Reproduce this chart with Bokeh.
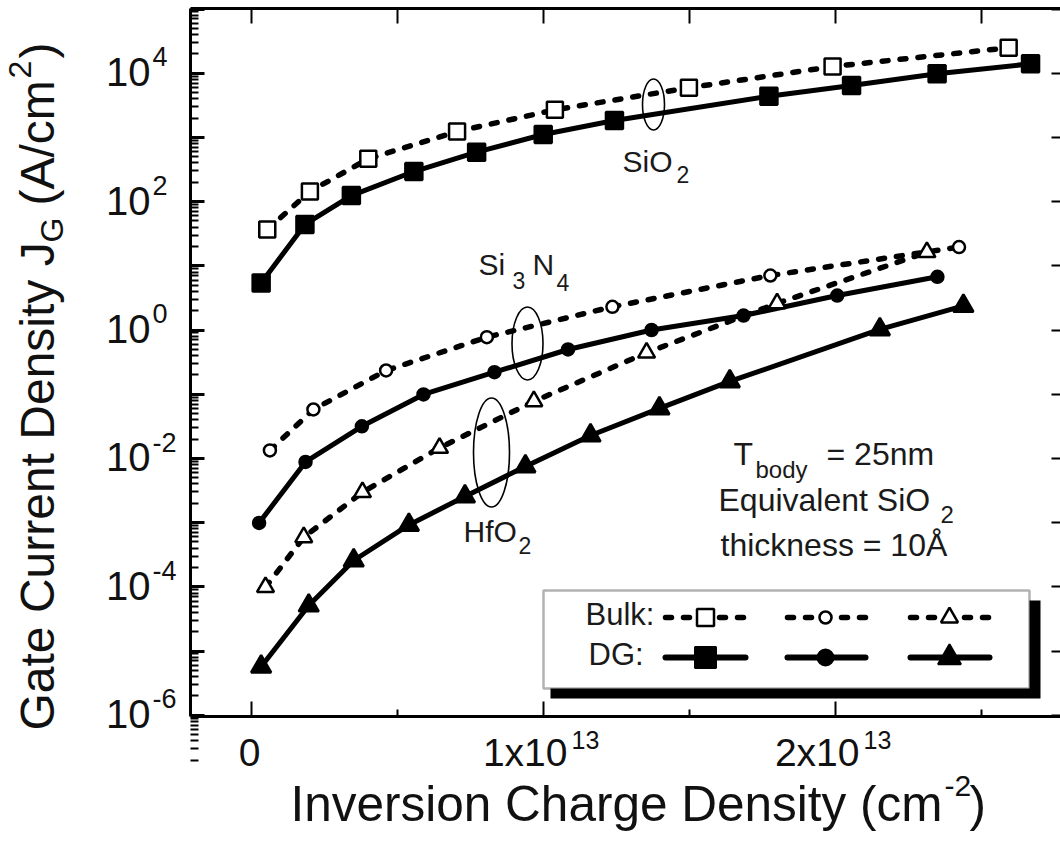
import math
from bokeh.plotting import figure
from bokeh.models import (Range1d, LinearAxis, LogAxis, FixedTicker, CustomJSTickFormatter,
                          Label, BoxAnnotation)
from bokeh.embed import file_html
from bokeh.resources import INLINE

E13 = 1e13
FONT = "Liberation Sans"

# ---------------- data (x in units of 1e13 cm^-2, y in A/cm^2) ----------------
sio2_bulk_x = [0.054, 0.200, 0.400, 0.704, 1.039, 1.498, 1.990, 2.593]
sio2_bulk_y = [36.7, 144, 464, 1236, 2690, 5930, 12700, 24900]
sio2_dg_x = [0.033, 0.183, 0.342, 0.556, 0.771, 0.999, 1.243, 1.772, 2.055, 2.348, 2.668]
sio2_dg_y = [5.4, 44, 124, 294, 588, 1110, 1830, 4380, 6430, 9790, 14000]

si3n4_bulk_x = [0.063, 0.212, 0.461, 0.806, 1.236, 1.777, 2.423]
si3n4_bulk_y = [0.0133, 0.0578, 0.234, 0.773, 2.30, 7.06, 19.6]
si3n4_dg_x = [0.026, 0.185, 0.378, 0.589, 0.832, 1.084, 1.370, 1.685, 2.006, 2.349]
si3n4_dg_y = [9.9e-4, 8.8e-3, 0.0316, 0.099, 0.220, 0.497, 1.0, 1.68, 3.44, 6.74]

hfo2_bulk_x = [0.048, 0.179, 0.380, 0.644, 0.967, 1.353, 1.800, 2.313]
hfo2_bulk_y = [9.9e-5, 5.9e-4, 2.98e-3, 0.0146, 0.0775, 0.443, 2.6, 16.3]
hfo2_dg_x = [0.033, 0.196, 0.350, 0.539, 0.731, 0.938, 1.161, 1.397, 1.638, 2.152, 2.438]
hfo2_dg_y = [5.7e-6, 5.1e-5, 2.57e-4, 9.2e-4, 2.55e-3, 7.5e-3, 0.0227, 0.060, 0.158, 1.02, 2.37]

x_major = [0, 1, 2]
x_minor = [0.5, 1.5, 2.5]
x_top = [0, 0.5, 1, 1.5, 2, 2.5]
x_tick_main = ["0", "1x10", "2x10"]
x_tick_exp = ["", "13", "13"]
y_decades = list(range(-6, 6))
y_label_decades = [-6, -4, -2, 0, 2, 4]
y_tick_exp = ["-6", "-4", "-2", "0", "2", "4"]

# ---------------- layout helpers (canvas pixel -> data) ----------------
W, H = 1060, 846
X0, XS = 251.0, 292.0      # pixel of x=0 and pixels per 1e13
Y4, DEC = 72.7, 64.2       # pixel of 1e4 and pixels per decade


def dx(ix):
    return (ix - X0) / XS * E13


def dy(iy):
    return 10 ** (4 - (iy - Y4) / DEC)


FL, FR, FT, FB = 190, 1060, 7.5, 716   # plot box edges in pixels

p = figure(width=W, height=H, output_backend="svg", toolbar_location=None,
           y_axis_type="log",
           x_range=Range1d(dx(0), dx(W)), y_range=Range1d(dy(H), dy(0)),
           min_border=0, min_border_left=0, min_border_right=0,
           min_border_top=0, min_border_bottom=0)
p.outline_line_color = None
p.xgrid.visible = False
p.ygrid.visible = False
p.background_fill_color = "white"
p.border_fill_color = "white"

blank = CustomJSTickFormatter(code="return ''")

# left axis
p.yaxis.fixed_location = dx(FL)
p.yaxis.bounds = (dy(FB), dy(FT))
p.yaxis.ticker = FixedTicker(ticks=[10.0 ** k for k in y_decades],
                             minor_ticks=[m * 10.0 ** k for k in range(-7, 6) for m in range(2, 10)])
p.yaxis.formatter = blank
p.yaxis.major_label_standoff = 0
p.yaxis.axis_line_width = 3
p.yaxis.major_tick_in = 14
p.yaxis.major_tick_out = 0
p.yaxis.minor_tick_in = 8
p.yaxis.minor_tick_out = 0
p.yaxis.major_tick_line_width = 3
p.yaxis.minor_tick_line_width = 2

# bottom axis
p.xaxis.fixed_location = dy(FB)
p.xaxis.bounds = (dx(FL), dx(FR))
p.xaxis.ticker = FixedTicker(ticks=[v * E13 for v in x_major], minor_ticks=[v * E13 for v in x_minor])
p.xaxis.formatter = blank
p.xaxis.major_label_standoff = 0
p.xaxis.axis_line_width = 3
p.xaxis.major_tick_in = 15
p.xaxis.major_tick_out = 0
p.xaxis.minor_tick_in = 7
p.xaxis.minor_tick_out = 0
p.xaxis.major_tick_line_width = 2
p.xaxis.minor_tick_line_width = 2

# top axis (ticks only)
top = LinearAxis(fixed_location=dy(FT), bounds=(dx(FL), dx(FR)),
                 ticker=FixedTicker(ticks=[v * E13 for v in x_top], minor_ticks=[]),
                 formatter=blank, major_label_standoff=0, axis_line_width=3,
                 major_tick_in=15, major_tick_out=0, minor_tick_in=0, minor_tick_out=0,
                 major_tick_line_width=2)
p.add_layout(top, "above")

# right axis (ticks only)
right = LogAxis(fixed_location=dx(FR), bounds=(dy(FB), dy(FT)),
                ticker=FixedTicker(ticks=[10.0 ** k for k in y_decades], minor_ticks=[]),
                formatter=blank, major_label_standoff=0, axis_line_color=None,
                major_tick_in=9, major_tick_out=0, minor_tick_in=0, minor_tick_out=0,
                major_tick_line_width=2)
p.add_layout(right, "right")

# ---------------- data series ----------------
DASH = "6 12"


def series(xs, ys, marker, msize, filled, dashed, lw_m=2.5):
    X = [v * E13 for v in xs]
    if dashed:
        p.line(X, ys, line_color="black", line_width=5.5, line_dash=DASH, line_cap="round")
    else:
        p.line(X, ys, line_color="black", line_width=5, line_join="round")
    p.scatter(X, ys, marker=marker, size=msize, line_color="black", line_width=lw_m,
              fill_color="black" if filled else "white")


series(sio2_bulk_x, sio2_bulk_y, "square", 16, False, True)
series(sio2_dg_x, sio2_dg_y, "square", 17, True, False)
series(si3n4_bulk_x, si3n4_bulk_y, "circle", 12, False, True)
series(si3n4_dg_x, si3n4_dg_y, "circle", 12, True, False)
series(hfo2_bulk_x, hfo2_bulk_y, "triangle", 17, False, True)
series(hfo2_dg_x, hfo2_dg_y, "triangle", 20, True, False)

# grouping ellipses
p.ellipse(x=[dx(653), dx(527), dx(491)], y=[dy(104), dy(343), dy(452)],
          width=[22, 31, 36], height=[51, 73, 109],
          width_units="screen", height_units="screen",
          fill_color=None, line_color="black", line_width=1.6)


def txt(s, ix, iy, size, align="left", color="#1a1a1a", angle=0.0):
    # (ix, iy): wanted pixel position of the text's baseline start;
    # the label is drawn a little below its anchor, so lift it back
    shift = 0.2 * size + 8
    if angle:
        ix = ix - shift
    else:
        iy = iy - shift
    p.add_layout(Label(x=dx(ix), y=dy(iy), text=s, text_font=FONT,
                       text_font_size=f"{size}px", text_align=align,
                       text_baseline="alphabetic", text_color=color, angle=angle))


# material labels
txt("SiO", 622, 175, 30)
txt("2", 676, 187, 23)
txt("Si", 478, 278, 30)
txt("3", 512, 293, 23)
txt("N", 532, 278, 30)
txt("4", 556, 295, 23)
txt("HfO", 463, 545, 30)
txt("2", 518, 558, 23)

# condition text
txt("T", 733, 468, 32)
txt("body", 755, 482, 24)
txt("= 25nm", 826, 468, 32)
txt("Equivalent SiO", 718, 514, 32)
txt("2", 940, 527, 24)
txt("thickness = 10\u00c5", 720, 559, 32)

# legend box with shadow
p.add_layout(BoxAnnotation(left=dx(550), right=dx(1040), top=dy(600), bottom=dy(698),
                           fill_color="black", fill_alpha=1, line_color=None, level="underlay"))
p.add_layout(BoxAnnotation(left=dx(543), right=dx(1029), top=dy(590), bottom=dy(688),
                           fill_color="white", fill_alpha=1, line_color="black",
                           line_width=2.5, level="underlay"))
txt("Bulk:", 585, 628, 31)
txt("DG:", 588, 668, 31)
leg_cols = [(665, 745, 705, "square", 17, 18), (787, 865, 825, "circle", 12, 13),
            (910, 989, 949, "triangle", 17, 20)]
for x1, x2, xm, mk, s_open, s_fill in leg_cols:
    yb, yd = dy(617), dy(657)
    p.line([dx(x1), dx(x2)], [yb, yb], line_color="black", line_width=5.5, line_dash=DASH,
           line_cap="round")
    p.scatter([dx(xm)], [yb], marker=mk, size=s_open, line_color="black", line_width=2.5,
              fill_color="white")
    p.line([dx(x1), dx(x2)], [yd, yd], line_color="black", line_width=6, line_cap="round")
    p.scatter([dx(xm)], [yd], marker=mk, size=s_fill + 3, line_color="black", line_width=2,
              fill_color="black")

# tick labels
for v, main, ex in zip(x_major, x_tick_main, x_tick_exp):
    ix = X0 + v * XS
    if ex:
        txt(main, ix + 24, 768, 39, align="right", color="#111")
        txt(ex, ix + 28, 752, 25, color="#111")
    else:
        txt(main, ix - 2, 768, 39, align="center", color="#111")
for k, ex in zip(y_label_decades, y_tick_exp):
    iy = Y4 + (4 - k) * DEC
    txt("10", 150, iy + 15, 40, align="right", color="#111")
    txt(ex, 152, iy - 3, 27, color="#111")

# axis titles
txt("Inversion Charge Density (cm", 290, 821, 49.5, color="#111")
txt("-2", 944, 799, 30, color="#111")
txt(")", 969, 821, 49.5, color="#111")

R = math.pi / 2
txt("Gate Current Density J", 55, 730, 48, color="#111", angle=R)
txt("G", 66, 242, 32, color="#111", angle=R)
txt("(A/cm", 55, 205, 48, color="#111", angle=R)
txt("2", 34, 78, 32, color="#111", angle=R)
txt(")", 55, 58, 48, color="#111", angle=R)

open("out.html", "w").write(file_html(p, INLINE))
